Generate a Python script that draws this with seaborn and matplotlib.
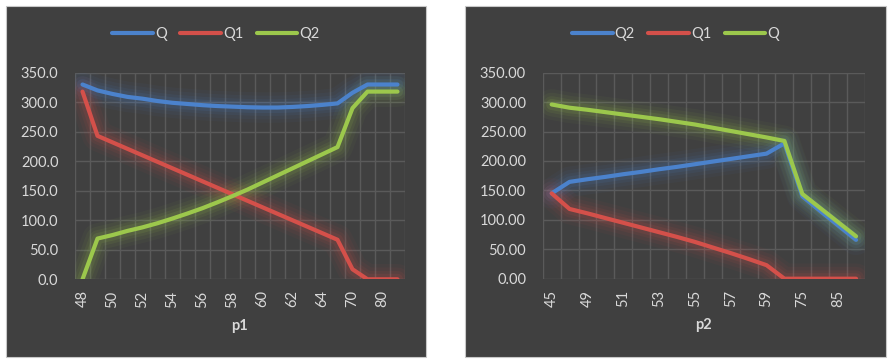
import matplotlib
matplotlib.use("Agg")
import numpy as np
import pandas as pd
import seaborn as sns
import matplotlib.pyplot as plt
from matplotlib.patches import Rectangle
from matplotlib.lines import Line2D
from matplotlib.ticker import FormatStrFormatter

# ---- data: left chart (price p1) ----
p1 = [48, 49, 50, 51, 52, 53, 54, 55, 56, 57, 58, 59, 60, 61, 62, 63, 64,
      65, 70, 75, 80, 90]
q_left = [330, 320, 314, 309, 306, 302, 299, 297, 295, 293.5, 292.5, 291.5,
          291, 291, 292, 293.5, 295.5, 298, 316, 330, 330, 330]
q1_left = [318, 243, 232, 221, 210, 199, 188, 177, 166, 155, 144, 133,
           122, 111, 100, 89, 78, 67, 17, 0, 0, 0]
q2_left = [0, 69, 75, 82, 88, 95, 103, 111.5, 120.5, 130.5, 141, 152,
           164, 176, 188, 200, 212, 224, 290, 318, 318, 318]

# ---- data: right chart (price p2) ----
p2 = [45, 47, 49, 50, 51, 52, 53, 54, 55, 56, 57, 58, 59, 60, 75, 80, 85, 90]
q2_right = [145, 164.5, 169, 173, 177.5, 181.5, 186, 190, 194.5, 199,
            203.5, 208, 212.5, 230, 140, 115, 90.5, 66]
q1_right = [145, 118.5, 111, 103, 95, 87, 79, 71, 62.5, 53,
            43.5, 33.5, 23, 0, 0, 0, 0, 0]
q_right = [296, 290.5, 287, 283, 279, 275, 271, 266.5, 262, 256.5,
           251, 245.5, 240, 234, 144, 120, 96, 72]

BLUE = "#4b82cc"
RED = "#d4504a"
GREEN = "#9cc84c"
PANEL = "#404040"
GRID = "#5a5a5a"
TEXT = "#d9d9d9"

W, H = 888, 359

sns.set_theme(style="dark", rc={"axes.facecolor": PANEL})
plt.rcParams["font.family"] = ["Lato", "DejaVu Sans"]

fig = plt.figure(figsize=(W / 100, H / 100), dpi=100)
fig.patch.set_facecolor("white")


def fx(px):
    return px / W


def fy(py):
    return 1 - py / H


def draw_chart(panel, area, prices, series, xlabel, fmt):
    x0, y0, x1, y1 = panel
    fig.add_artist(Rectangle((fx(x0), fy(y1)), fx(x1 - x0), (y1 - y0) / H,
                             transform=fig.transFigure, facecolor=PANEL,
                             edgecolor="#c8c8c8", linewidth=0.8, zorder=0))
    ax0, ay0, ax1, ay1 = area
    ax = fig.add_axes([fx(ax0), fy(ay1), fx(ax1 - ax0), (ay1 - ay0) / H])
    ax.set_facecolor(PANEL)
    for s in ax.spines.values():
        s.set_visible(False)

    n = len(prices)
    names = [s[0] for s in series]
    colors = [s[2] for s in series]
    df = pd.concat([
        pd.DataFrame({"pos": np.arange(n), "value": vals, "series": name})
        for name, vals, _ in series
    ], ignore_index=True)

    # soft glow underneath each line
    for lw, a in [(22, 0.045), (17, 0.06), (12, 0.08), (8, 0.11)]:
        sns.lineplot(data=df, x="pos", y="value", hue="series",
                     hue_order=names, palette=colors, linewidth=lw, alpha=a,
                     estimator=None, sort=False, legend=False, ax=ax,
                     solid_capstyle="round")
    sns.lineplot(data=df, x="pos", y="value", hue="series", hue_order=names,
                 palette=colors, linewidth=3, estimator=None, sort=False,
                 legend=False, ax=ax, solid_capstyle="round")

    ax.set_xlim(-0.5, n - 0.5)
    ax.set_ylim(0, 350)
    ax.set_xticks(np.arange(0, n, 2))
    ax.set_xticklabels([str(p) for p in prices[::2]], rotation=90)
    ax.set_xticks(np.arange(-0.5, n, 1), minor=True)
    ax.set_yticks(np.arange(0, 351, 50))
    ax.yaxis.set_major_formatter(FormatStrFormatter(fmt))
    ax.grid(False)
    ax.grid(which="minor", axis="x", color=GRID, linewidth=1)
    ax.grid(which="major", axis="y", color=GRID, linewidth=1)
    ax.set_axisbelow(True)
    ax.tick_params(which="both", length=0, colors=TEXT, labelsize=10.5)
    ax.tick_params(axis="y", pad=12)
    ax.tick_params(axis="x", pad=8)
    ax.set_xlabel(xlabel, color=TEXT, fontsize=10.5, fontweight="bold",
                  labelpad=8)
    ax.set_ylabel("")

    handles = [Line2D([], [], color=c, linewidth=3) for c in colors]
    fig.legend(handles, names, loc="center",
               bbox_to_anchor=(fx((x0 + x1) / 2), fy(34)), ncol=3,
               frameon=False, fontsize=10.5, labelcolor=TEXT,
               handlelength=2.8, handletextpad=0.15, columnspacing=0.9)
    return ax


draw_chart((6, 6, 426, 357), (75, 72.7, 405, 279.3), p1,
           [("Q", q_left, BLUE), ("Q1", q1_left, RED), ("Q2", q2_left, GREEN)],
           "p1", "%.1f")
draw_chart((465, 6, 886, 357), (542.7, 72.7, 865, 278.7), p2,
           [("Q2", q2_right, BLUE), ("Q1", q1_right, RED), ("Q", q_right, GREEN)],
           "p2", "%.2f")

fig.savefig("out.png", dpi=100, facecolor="white")
